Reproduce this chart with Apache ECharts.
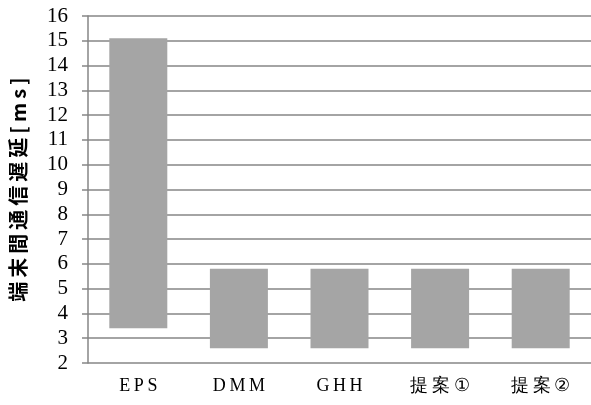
<!DOCTYPE html>
<html>
<head>
<meta charset="utf-8">
<script src="https://cdn.jsdelivr.net/npm/echarts@6/dist/echarts.min.js"></script>
<style>
  html, body { margin: 0; padding: 0; background: #fff; }
  #main { width: 591px; height: 405px; }
</style>
</head>
<body>
<div id="main"></div>
<script>
// 端末間通信遅延 [ms]: 各方式の最小〜最大
const categories = ['EPS', 'DMM', 'GHH', '提案①', '提案②']
const lowValues = [3.4, 2.6, 2.6, 2.6, 2.6]
const highValues = [15.1, 5.8, 5.8, 5.8, 5.8]
const yTicks = [2, 16, 1] // min, max, interval
const yName = '端末間通信遅延[ms]'

// 文字間を少し広げる（元の図に合わせて）
const spread = (s, sp) => s.split('').join(sp)

const myChart = echarts.init(document.getElementById('main'))
const gray = '#868686'
const option = {
  animation: false,
  grid: { left: 82, top: 16, width: 512, bottom: 42, containLabel: false },
  xAxis: {
    type: 'category',
    data: categories,
    axisLine: { show: false },
    axisTick: { show: false },
    axisLabel: {
      margin: 14,
      fontFamily: 'Liberation Serif',
      fontSize: 18,
      color: '#000',
      formatter: v => spread(v, '\u2009')
    }
  },
  yAxis: {
    type: 'value',
    min: yTicks[0],
    max: yTicks[1],
    interval: yTicks[2],
    name: spread(yName, '\u2009'),
    nameLocation: 'middle',
    nameGap: 60,
    nameRotate: 90,
    nameTextStyle: {
      fontFamily: 'Noto Sans CJK JP',
      fontWeight: 'bold',
      fontSize: 20,
      color: '#000'
    },
    axisLine: { show: true, lineStyle: { color: gray, width: 1.5 } },
    axisTick: { show: true, inside: false, length: 6, lineStyle: { color: gray, width: 1.5 } },
    splitLine: { show: true, lineStyle: { color: gray, width: 1.5 } },
    axisLabel: {
      margin: 20,
      fontFamily: 'Liberation Serif',
      fontSize: 21,
      color: '#000'
    }
  },
  series: [
    {
      type: 'bar',
      stack: 'range',
      barWidth: 58,
      itemStyle: { color: 'transparent' },
      data: lowValues
    },
    {
      type: 'bar',
      stack: 'range',
      barWidth: 58,
      itemStyle: { color: '#a5a5a5' },
      data: highValues.map((v, i) => v - lowValues[i])
    }
  ]
}
myChart.setOption(option)
</script>
</body>
</html>
